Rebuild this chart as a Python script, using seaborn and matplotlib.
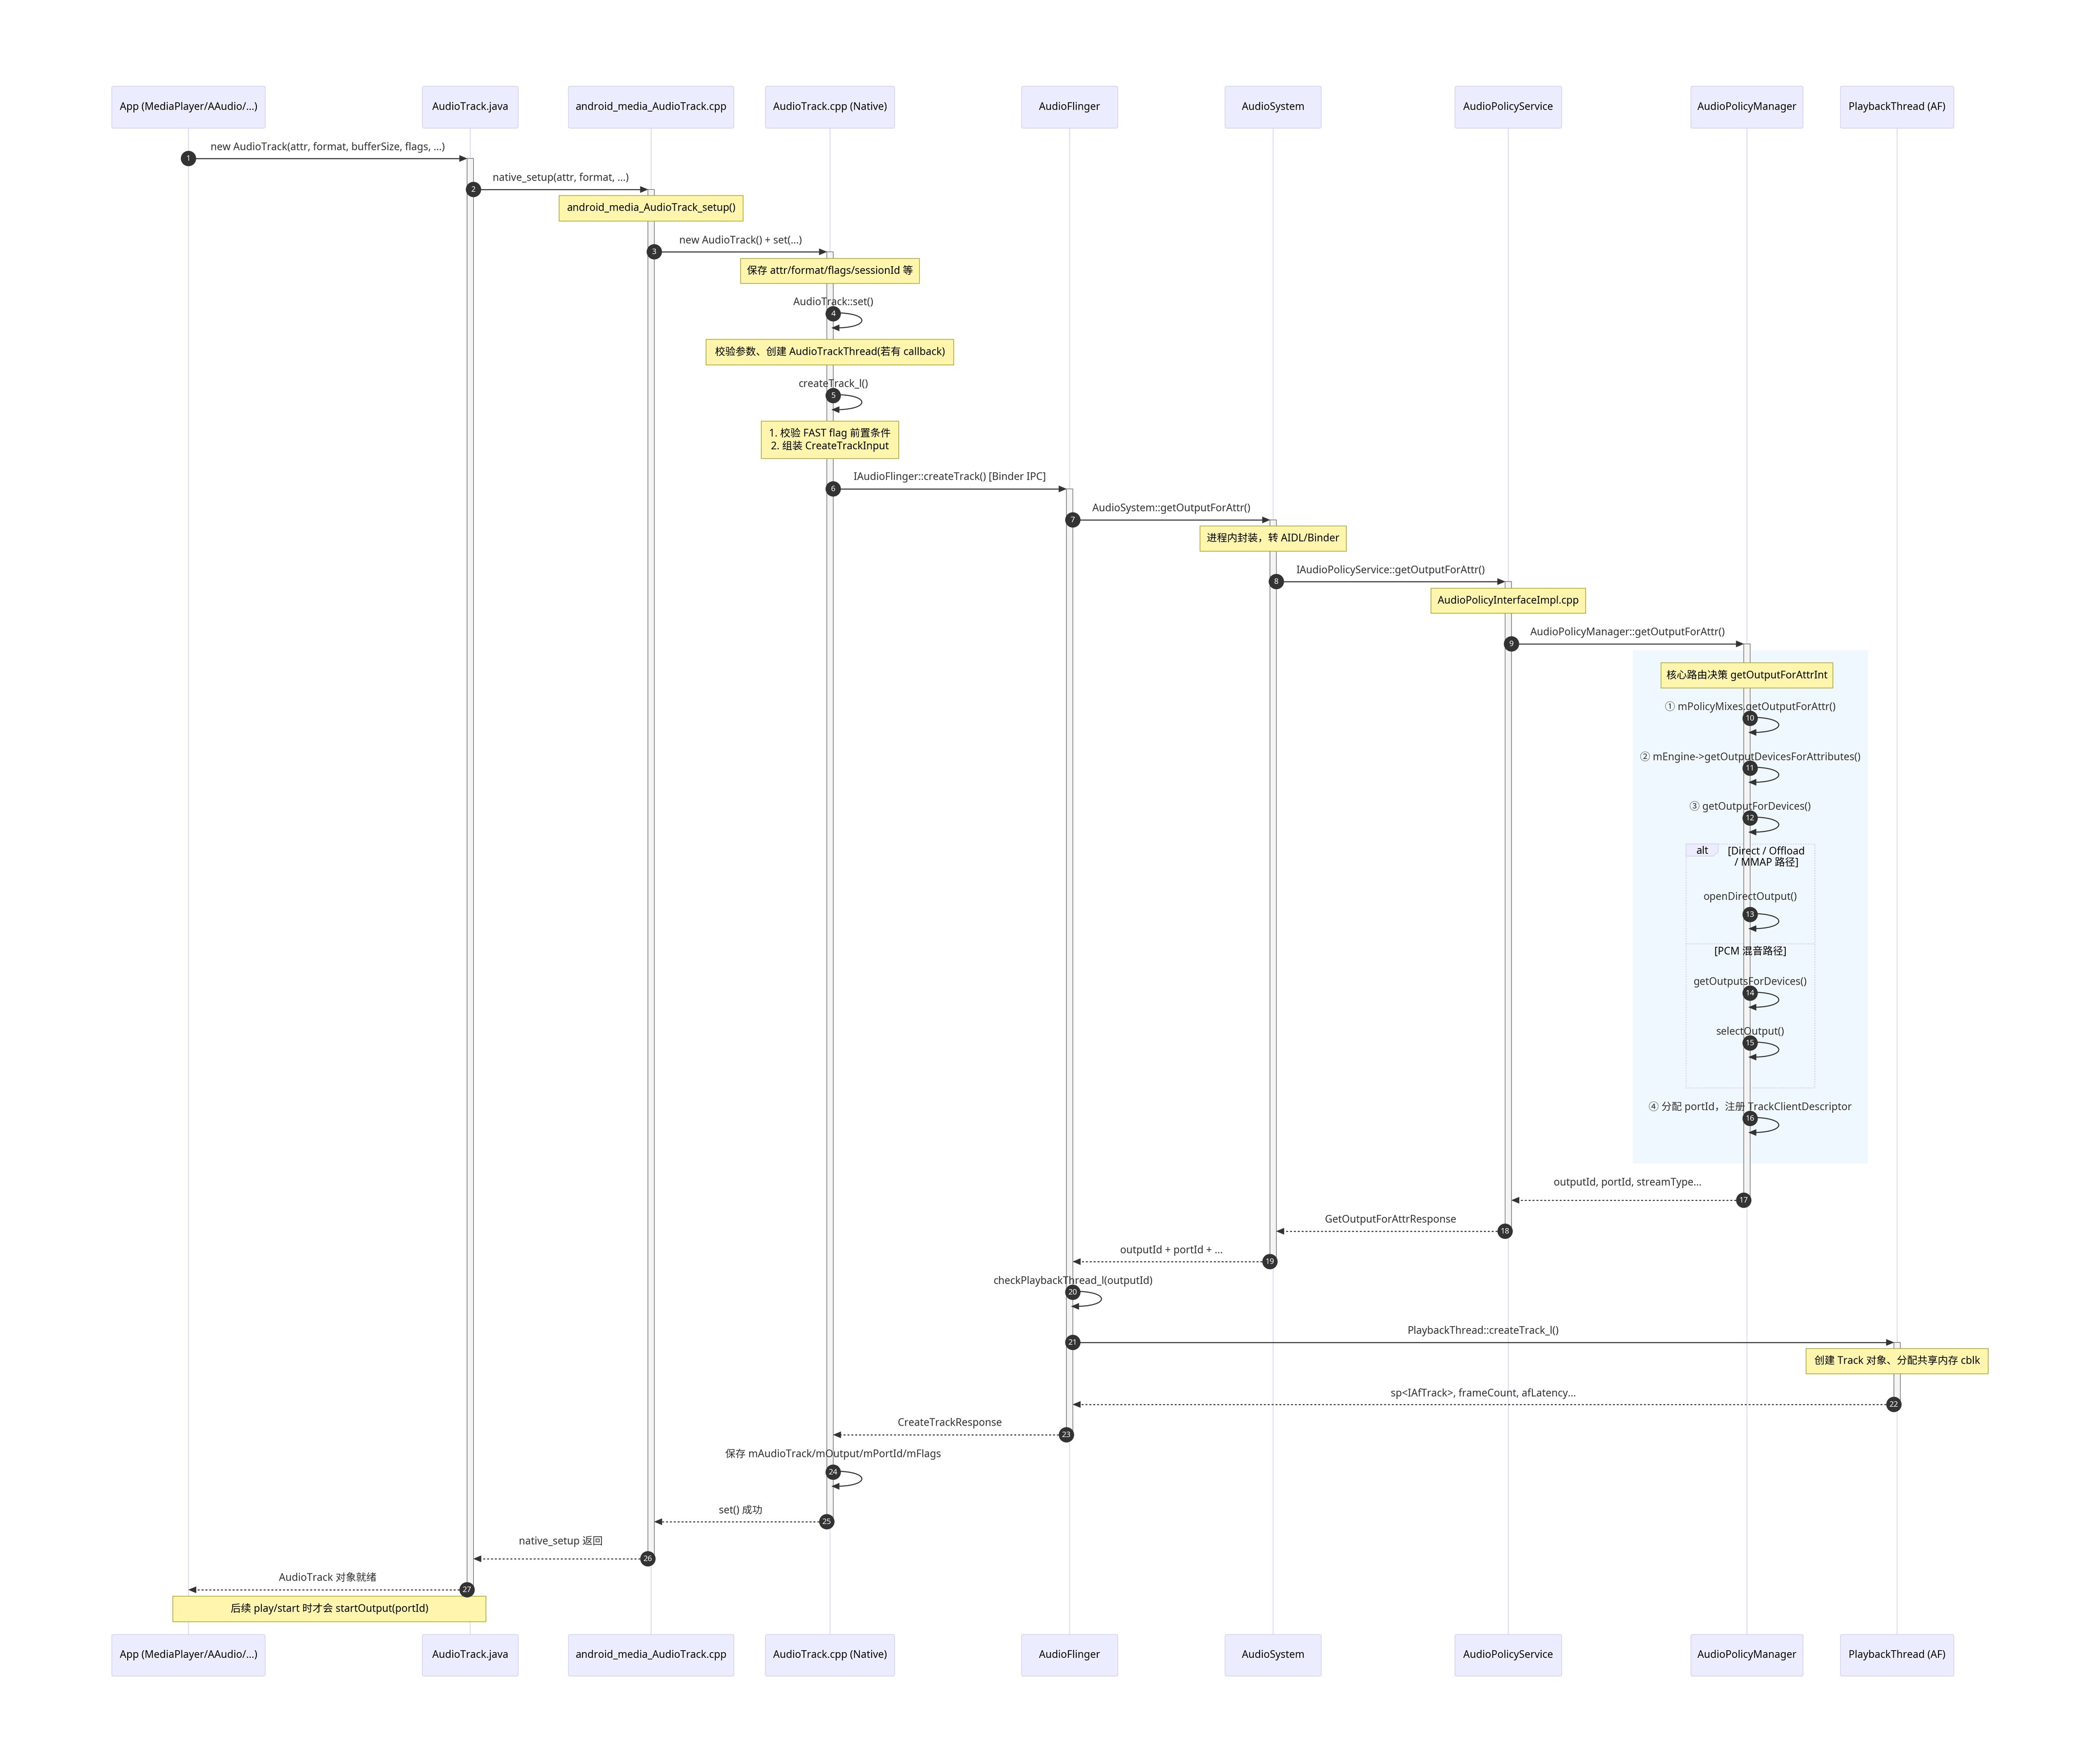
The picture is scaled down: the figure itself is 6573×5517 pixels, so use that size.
import matplotlib
matplotlib.use("Agg")
import matplotlib.pyplot as plt
from matplotlib.patches import Rectangle, FancyBboxPatch, Polygon, PathPatch
from matplotlib.path import Path
import seaborn as sns
import pandas as pd

# ---------------- DATA ----------------
participant_keys = ["App", "ATJ", "AMA", "ATC", "AF", "AS", "APS", "APM", "PT"]
participant_names = [
    "App (MediaPlayer/AAudio/...)", "AudioTrack.java", "android_media_AudioTrack.cpp",
    "AudioTrack.cpp (Native)", "AudioFlinger", "AudioSystem", "AudioPolicyService",
    "AudioPolicyManager", "PlaybackThread (AF)",
]

msg_src = ["App", "ATJ", "AMA", "ATC", "ATC", "ATC", "AF", "AS", "APS",
           "APM", "APM", "APM", "APM", "APM", "APM", "APM",
           "APM", "APS", "AS", "AF", "AF", "PT", "AF", "ATC", "ATC", "AMA", "ATJ"]
msg_dst = ["ATJ", "AMA", "ATC", "ATC", "ATC", "AF", "AS", "APS", "APM",
           "APM", "APM", "APM", "APM", "APM", "APM", "APM",
           "APS", "AS", "AF", "AF", "PT", "AF", "ATC", "ATC", "AMA", "ATJ", "App"]
msg_text = [
    "new AudioTrack(attr, format, bufferSize, flags, ...)",
    "native_setup(attr, format, ...)",
    "new AudioTrack() + set(...)",
    "AudioTrack::set()",
    "createTrack_l()",
    "IAudioFlinger::createTrack() [Binder IPC]",
    "AudioSystem::getOutputForAttr()",
    "IAudioPolicyService::getOutputForAttr()",
    "AudioPolicyManager::getOutputForAttr()",
    "① mPolicyMixes.getOutputForAttr()",
    "② mEngine->getOutputDevicesForAttributes()",
    "③ getOutputForDevices()",
    "openDirectOutput()",
    "getOutputsForDevices()",
    "selectOutput()",
    "④ 分配 portId，注册 TrackClientDescriptor",
    "outputId, portId, streamType...",
    "GetOutputForAttrResponse",
    "outputId + portId + ...",
    "checkPlaybackThread_l(outputId)",
    "PlaybackThread::createTrack_l()",
    "sp<IAfTrack>, frameCount, afLatency...",
    "CreateTrackResponse",
    "保存 mAudioTrack/mOutput/mPortId/mFlags",
    "set() 成功",
    "native_setup 返回",
    "AudioTrack 对象就绪",
]
msg_dashed = [False] * 16 + [True, True, True, False, False, True, True, False, True, True, True]

note_text = [
    "android_media_AudioTrack_setup()",
    "保存 attr/format/flags/sessionId 等",
    "校验参数、创建 AudioTrackThread(若有 callback)",
    "1. 校验 FAST flag 前置条件\n2. 组装 CreateTrackInput",
    "进程内封装，转 AIDL/Binder",
    "AudioPolicyInterfaceImpl.cpp",
    "核心路由决策 getOutputForAttrInt",
    "创建 Track 对象、分配共享内存 cblk",
    "后续 play/start 时才会 startOutput(portId)",
]
note_over = [("AMA",), ("ATC",), ("ATC",), ("ATC",), ("AS",), ("APS",), ("APM",), ("PT",), ("App", "ATJ")]

act_who = ["ATJ", "AMA", "ATC", "AF", "AS", "APS", "APM", "PT"]
act_from = [1, 2, 3, 6, 7, 8, 9, 21]     # message numbers
act_to = [27, 26, 25, 23, 19, 18, 17, 22]

alt_label = "alt"
alt_cond = "[Direct / Offload\n/ MMAP 路径]"
alt_else = "[PCM 混音路径]"

# ---------------- LAYOUT ----------------
W, H = 6574, 5517
lane_x = [590, 1472, 2038, 2598, 3348, 3985, 4721, 5468, 5938]
box_w = [480, 300, 518, 404, 301, 301, 334, 351, 355]
top_box = (270, 401)
bot_box = (5115, 5245)
msg_y = [496, 593, 788, 982, 1238, 1530, 1627, 1820, 2015, 2248, 2404, 2560, 2862,
         3108, 3264, 3500, 3756, 3853, 3948, 4044, 4201, 4395, 4490, 4607, 4762, 4878, 4975]
label_y = [461, 557, 753, 946, 1203, 1494, 1592, 1786, 1979, 2212, 2369, 2524, 2807,
           3073, 3229, 3464, 3702, 3817, 3914, 4009, 4165, 4361, 4454, 4551, 4728, 4824, 4938]
note_w = [576, 560, 775, 430, 458, 484, 538, 570, 980]
note_y0 = [612, 809, 1062, 1318, 1646, 1841, 2074, 4220, 4995]
note_y1 = [692, 887, 1142, 1435, 1725, 1919, 2153, 4299, 5075]
rect_box = (5111, 2035, 5847, 3641)
alt_box = (5277, 2641, 5680, 3404)
alt_div_y = 2953

# ---------------- STYLE ----------------
ACTOR_FILL = "#ECECFF"
ACTOR_EDGE = "#D7CDF3"
LIFE = "#D9D0F3"
NOTE_FILL = "#FFF5AD"
NOTE_EDGE = "#AAAA33"
SIG = "#333333"
FS = 23

sns.set_theme(style="white")
plt.rcParams["font.family"] = ["Noto Sans", "Noto Sans CJK SC", "DejaVu Sans"]

fig = plt.figure(figsize=(W / 100, H / 100), dpi=100)
ax = fig.add_axes([0, 0, 1, 1])
ax.set_xlim(0, W)
ax.set_ylim(H, 0)
ax.axis("off")

X = dict(zip(participant_keys, lane_x))

# background rect
ax.add_patch(Rectangle((rect_box[0], rect_box[1]), rect_box[2] - rect_box[0],
                       rect_box[3] - rect_box[1], facecolor="#F0F8FF", edgecolor="none", zorder=0))

# lifelines
ax.vlines(lane_x, top_box[1], bot_box[0], colors=LIFE, linewidth=1.7, zorder=1)

# actor boxes
for name, x, w in zip(participant_names, lane_x, box_w):
    for (y0, y1) in (top_box, bot_box):
        ax.add_patch(FancyBboxPatch((x - w / 2, y0), w, y1 - y0,
                                    boxstyle="round,pad=0,rounding_size=6",
                                    facecolor=ACTOR_FILL, edgecolor=ACTOR_EDGE, linewidth=1.5, zorder=2))
        ax.text(x, (y0 + y1) / 2, name, ha="center", va="center", fontsize=FS, color="black", zorder=3)

# alt frame
ax0, ay0, ax1, ay1 = alt_box
ax.add_patch(Rectangle((ax0, ay0), ax1 - ax0, ay1 - ay0, facecolor="none", edgecolor=ACTOR_EDGE,
                       linewidth=2.2, linestyle=(0, (1.3, 1.3)), zorder=2))
ax.plot([ax0, ax1], [alt_div_y, alt_div_y], color=ACTOR_EDGE, linewidth=2.2,
        linestyle=(0, (1.3, 1.3)), zorder=2)
ax.add_patch(Polygon([(ax0, ay0), (ax0 + 101, ay0), (ax0 + 101, ay0 + 25), (ax0 + 85, ay0 + 38), (ax0, ay0 + 38)],
                     closed=True, facecolor=ACTOR_FILL, edgecolor=ACTOR_EDGE, linewidth=1.5, zorder=3))
ax.text(ax0 + 51, ay0 + 22, alt_label, ha="center", va="center", fontsize=FS, color="black", zorder=9)
ax.text((ax0 + 101 + ax1) / 2, ay0 + 42, alt_cond, ha="center", va="center", fontsize=FS,
        color="black", linespacing=1.05, zorder=9)
ax.text((ax0 + ax1) / 2, alt_div_y + 25, alt_else, ha="center", va="center", fontsize=FS,
        color="black", zorder=9)

# activation bars
def is_active(key, k):
    return any(w == key and f <= k <= t for w, f, t in zip(act_who, act_from, act_to))

for w, f, t in zip(act_who, act_from, act_to):
    y0, y1 = msg_y[f - 1], msg_y[t - 1]
    ax.add_patch(Rectangle((X[w] - 10, y0), 20, y1 - y0, facecolor="#F4F4F4",
                           edgecolor="#666666", linewidth=1.3, zorder=4))

# notes
for txt, over, w, y0, y1 in zip(note_text, note_over, note_w, note_y0, note_y1):
    cx = sum(X[o] for o in over) / len(over)
    ax.add_patch(Rectangle((cx - w / 2, y0), w, y1 - y0, facecolor=NOTE_FILL, edgecolor=NOTE_EDGE,
                           linewidth=1.6, zorder=5))
    ax.text(cx, (y0 + y1) / 2, txt, ha="center", va="center", fontsize=FS, color="black",
            linespacing=1.2, zorder=6)

# messages
AL, AH = 24, 10
circ_x, circ_y, circ_n = [], [], []
for i, (s, d, txt, dashed) in enumerate(zip(msg_src, msg_dst, msg_text, msg_dashed)):
    k = i + 1
    y = msg_y[i]
    ls = (0, (1.9, 1.9)) if dashed else "-"
    if s == d:
        x0 = X[s] + 10
        verts = [(x0, y - 3), (x0 + 120, y - 5), (x0 + 120, y + 47), (x0 - 3, y + 44)]
        ax.add_patch(PathPatch(Path(verts, [Path.MOVETO, Path.CURVE4, Path.CURVE4, Path.CURVE4]),
                               facecolor="none", edgecolor=SIG, linewidth=2.3, linestyle=ls, zorder=7))
        tip = (x0 - 5, y + 44)
        ax.add_patch(Polygon([tip, (tip[0] + AL, tip[1] - AH), (tip[0] + AL, tip[1] + AH)],
                             closed=True, facecolor=SIG, edgecolor=SIG, linewidth=0.5, zorder=8))
        ax.text(x0, label_y[i], txt, ha="center", va="center", fontsize=FS, color=SIG, zorder=9)
        circ_x.append(x0)
    else:
        sgn = 1 if X[d] > X[s] else -1
        xs = X[s] + sgn * 10 * is_active(s, k)
        xe = X[d] - sgn * 10 * is_active(d, k)
        ax.plot([xs, xe - sgn * AL * 0.6], [y, y], color=SIG, linewidth=2.3, linestyle=ls,
                solid_capstyle="butt", zorder=7)
        ax.add_patch(Polygon([(xe, y), (xe - sgn * AL, y - AH), (xe - sgn * AL, y + AH)],
                             closed=True, facecolor=SIG, edgecolor=SIG, linewidth=0.5, zorder=8))
        ax.text((xs + xe) / 2, label_y[i], txt, ha="center", va="center", fontsize=FS, color=SIG, zorder=9)
        circ_x.append(xs)
    circ_y.append(y)
    circ_n.append(str(k))

circles = pd.DataFrame({"x": circ_x, "y": circ_y, "n": circ_n})
sns.scatterplot(data=circles, x="x", y="y", s=1190, color=SIG, edgecolor="none",
                legend=False, ax=ax, zorder=10)
for _, r in circles.iterrows():
    ax.text(r.x, r.y + 1, r.n, ha="center", va="center", fontsize=17.5, color="white", zorder=11)

ax.set_xlim(0, W)
ax.set_ylim(H, 0)
ax.axis("off")
fig.savefig("out.png", dpi=100, facecolor="white")
